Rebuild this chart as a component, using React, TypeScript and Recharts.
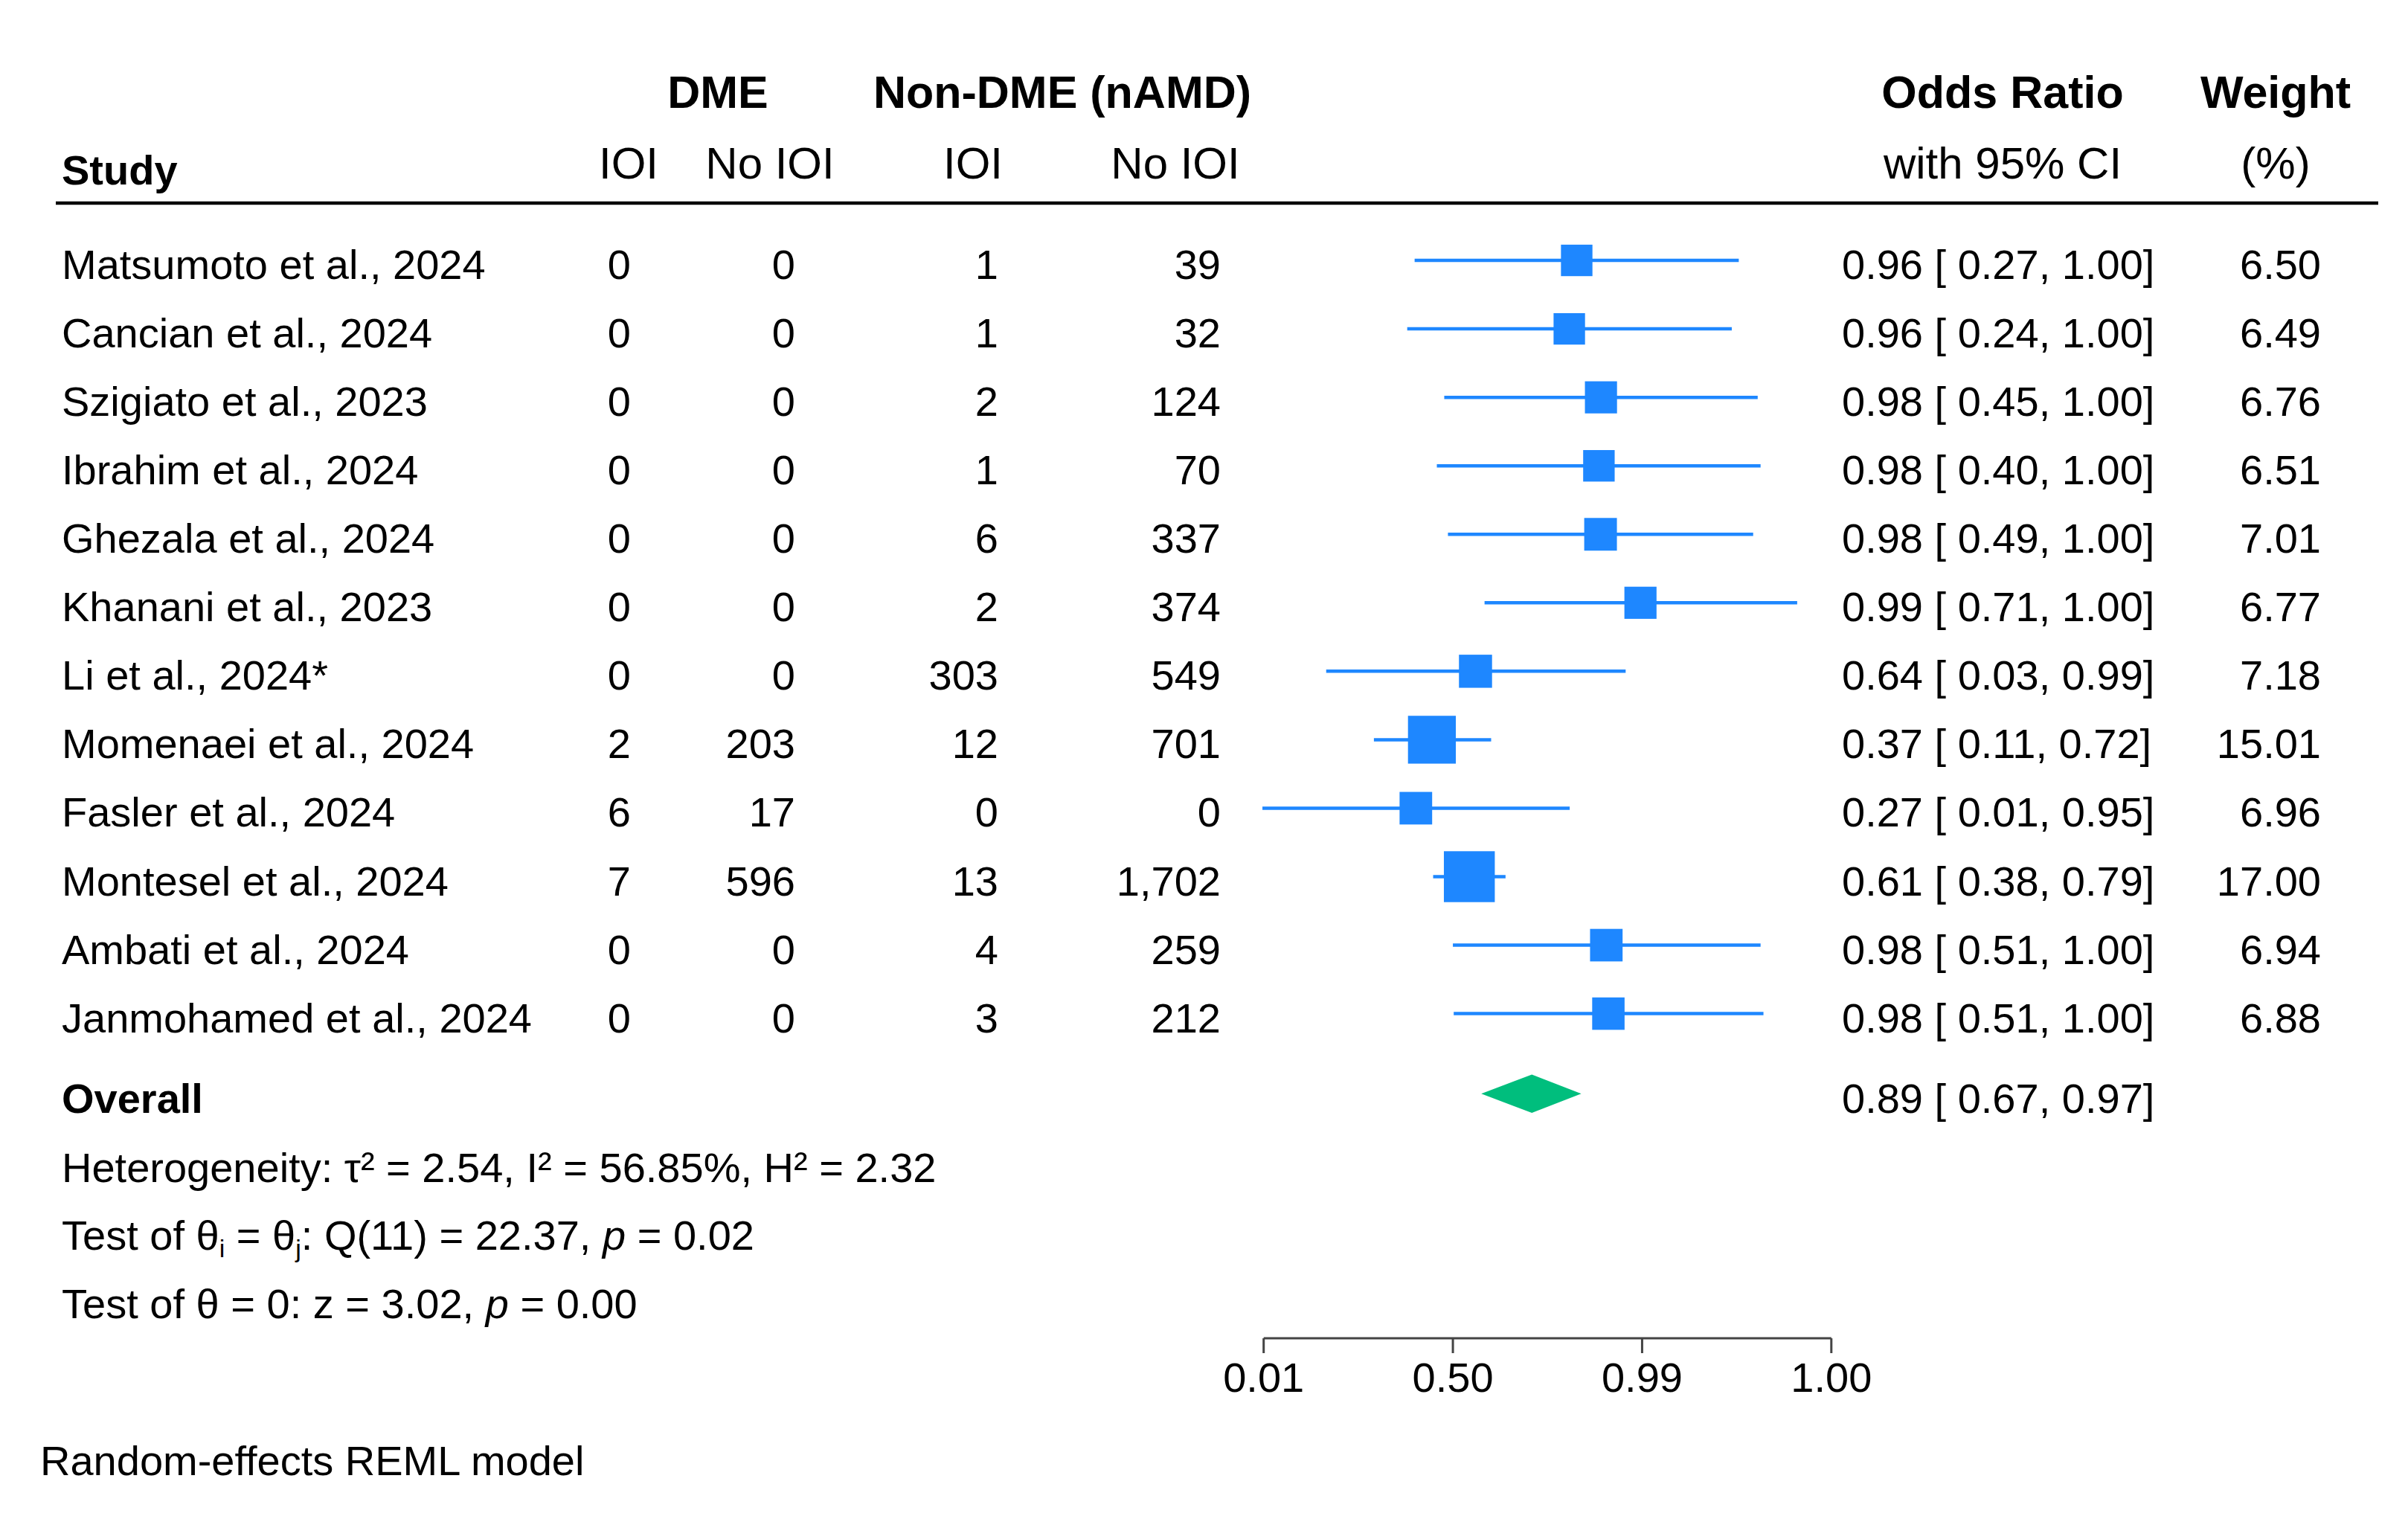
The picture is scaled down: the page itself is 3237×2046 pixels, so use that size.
import { ReferenceLine, Scatter, ScatterChart, XAxis, YAxis } from 'recharts'

const studies = [
  'Matsumoto et al., 2024',
  'Cancian et al., 2024',
  'Szigiato et al., 2023',
  'Ibrahim et al., 2024',
  'Ghezala et al., 2024',
  'Khanani et al., 2023',
  'Li et al., 2024*',
  'Momenaei et al., 2024',
  'Fasler et al., 2024',
  'Montesel et al., 2024',
  'Ambati et al., 2024',
  'Janmohamed et al., 2024',
]
const dmeIOI = [0, 0, 0, 0, 0, 0, 0, 2, 6, 7, 0, 0]
const dmeNoIOI = [0, 0, 0, 0, 0, 0, 0, 203, 17, 596, 0, 0]
const nonDmeIOI = [1, 1, 2, 1, 6, 2, 303, 12, 0, 13, 4, 3]
const nonDmeNoIOI = [39, 32, 124, 70, 337, 374, 549, 701, 0, 1702, 259, 212]

// printed odds ratios with 95% CI
const orEst = [0.96, 0.96, 0.98, 0.98, 0.98, 0.99, 0.64, 0.37, 0.27, 0.61, 0.98, 0.98]
const orLow = [0.27, 0.24, 0.45, 0.4, 0.49, 0.71, 0.03, 0.11, 0.01, 0.38, 0.51, 0.51]
const orHigh = [1.0, 1.0, 1.0, 1.0, 1.0, 1.0, 0.99, 0.72, 0.95, 0.79, 1.0, 1.0]
const weights = [6.5, 6.49, 6.76, 6.51, 7.01, 6.77, 7.18, 15.01, 6.96, 17.0, 6.94, 6.88]

// plotted positions (logit scale)
const plotEst = [3.01, 2.83, 3.6, 3.55, 3.59, 4.56, 0.55, -0.51, -0.9, 0.4, 3.73, 3.78]
const plotLow = [-0.93, -1.11, -0.21, -0.39, -0.12, 0.77, -3.08, -1.92, -4.63, -0.48, 0.0, 0.02]
const plotHigh = [6.95, 6.78, 7.41, 7.48, 7.3, 8.37, 4.2, 0.93, 2.84, 1.28, 7.48, 7.55]

const overallPrinted = [0.89, 0.67, 0.97]
const overallPlot = [1.92, 0.69, 3.12]
const overallRow = 12.17

const axisTicks = [-4.6, 0, 4.6, 9.2]
const tickLabels = ['0.01', '0.50', '0.99', '1.00']

const W = 3237
const H = 2046
const TOP = 258
const ROW = 92.05
const FONT = "'Liberation Sans', Arial, Helvetica, sans-serif"
const BLUE = '#1E87FF'
const GREEN = '#00BE7D'

const rowY = (i: number) => TOP + (i + 1) * ROW

const squares = studies.map((s, i) => ({ x: plotEst[i], y: i, w: weights[i], name: s }))
const diamondHalf = 0.28
const diamond = [
  { x: overallPlot[1], y: overallRow },
  { x: overallPlot[0], y: overallRow - diamondHalf },
  { x: overallPlot[2], y: overallRow },
  { x: overallPlot[0], y: overallRow + diamondHalf },
]

const fmtCI = (e: number, l: number, h: number) =>
  `${e.toFixed(2)} [ ${l.toFixed(2)}, ${h.toFixed(2)}]`

function Square(props: any) {
  const s = 16.6 * Math.sqrt(props.payload.w)
  return <rect x={props.cx - s / 2} y={props.cy - s / 2} width={s} height={s} fill={BLUE} />
}

function Overlay() {
  const body = { fontFamily: FONT, fontSize: 56, fill: '#000' }
  const head = { fontFamily: FONT, fontSize: 60, fill: '#000' }
  const bold = { fontFamily: FONT, fontSize: 61, fill: '#000', fontWeight: 'bold' }
  return (
    <svg
      width={W}
      height={H}
      style={{ position: 'absolute', left: 0, top: 0, pointerEvents: 'none' }}
    >
      <text {...bold} x={965} y={145} textAnchor="middle">DME</text>
      <text {...bold} x={1428} y={145} textAnchor="middle">Non-DME (nAMD)</text>
      <text {...bold} x={2692} y={145} textAnchor="middle">Odds Ratio</text>
      <text {...bold} x={3059} y={145} textAnchor="middle">Weight</text>
      <text {...body} fontWeight="bold" x={83} y={248}>Study</text>
      <text {...head} x={845} y={240} textAnchor="middle">IOI</text>
      <text {...head} x={1035} y={240} textAnchor="middle">No IOI</text>
      <text {...head} x={1308} y={240} textAnchor="middle">IOI</text>
      <text {...head} x={1580} y={240} textAnchor="middle">No IOI</text>
      <text {...head} x={2692} y={240} textAnchor="middle">with 95% CI</text>
      <text {...head} x={3059} y={240} textAnchor="middle">(%)</text>
      <line x1={75} x2={3197} y1={273} y2={273} stroke="#000" strokeWidth={4.5} />

      {studies.map((s, i) => {
        const y = rowY(i) + 25
        return (
          <g key={s}>
            <text {...body} x={83} y={y}>{s}</text>
            <text {...body} x={848} y={y} textAnchor="end">{dmeIOI[i]}</text>
            <text {...body} x={1069} y={y} textAnchor="end">{dmeNoIOI[i]}</text>
            <text {...body} x={1342} y={y} textAnchor="end">{nonDmeIOI[i]}</text>
            <text {...body} x={1641} y={y} textAnchor="end">
              {nonDmeNoIOI[i].toLocaleString('en-US')}
            </text>
            <text {...body} x={2476} y={y} style={{ whiteSpace: 'pre' }}>
              {fmtCI(orEst[i], orLow[i], orHigh[i])}
            </text>
            <text {...body} x={3120} y={y} textAnchor="end">{weights[i].toFixed(2)}</text>
          </g>
        )
      })}

      <text {...body} fontWeight="bold" x={83} y={1496}>Overall</text>
      <text {...body} x={2476} y={1496} style={{ whiteSpace: 'pre' }}>
        {fmtCI(overallPrinted[0], overallPrinted[1], overallPrinted[2])}
      </text>
      <text {...body} x={83} y={1589}>
        Heterogeneity: τ² = 2.54, I² = 56.85%, H² = 2.32
      </text>
      <text {...body} x={83} y={1680}>
        Test of θ<tspan fontSize={34} dy={10}>i</tspan>
        <tspan dy={-10}> = θ</tspan>
        <tspan fontSize={34} dy={10}>j</tspan>
        <tspan dy={-10}>: Q(11) = 22.37, </tspan>
        <tspan fontStyle="italic">p</tspan> = 0.02
      </text>
      <text {...body} x={83} y={1772}>
        Test of θ = 0: z = 3.02, <tspan fontStyle="italic">p</tspan> = 0.00
      </text>
      <text {...body} x={54} y={1983}>Random-effects REML model</text>
    </svg>
  )
}

export default function App() {
  return (
    <div style={{ position: 'absolute', left: 0, top: 0, width: W, height: H, background: '#fff' }}>
      <ScatterChart
        width={W}
        height={H}
        margin={{ top: TOP, right: 775.2, bottom: 167, left: 1698.7 }}
      >
        <XAxis
          type="number"
          dataKey="x"
          domain={[-4.6, 9.2]}
          allowDataOverflow
          ticks={axisTicks}
          interval={0}
          tickFormatter={(v: number) => tickLabels[axisTicks.indexOf(v)]}
          height={80}
          tickSize={20}
          tickMargin={12}
          axisLine={{ stroke: '#444', strokeWidth: 3 }}
          tickLine={{ stroke: '#444', strokeWidth: 3 }}
          tick={{ fontSize: 56, fill: '#000', fontFamily: FONT }}
        />
        <YAxis
          type="number"
          dataKey="y"
          domain={[-1, (2046 - 167 - 80 - TOP) / ROW - 1]}
          reversed
          allowDataOverflow
          hide
          width={0}
        />
        {studies.map((s, i) => (
          <ReferenceLine
            key={s}
            segment={[
              { x: plotLow[i], y: i },
              { x: plotHigh[i], y: i },
            ]}
            stroke={BLUE}
            strokeWidth={4.5}
            ifOverflow="visible"
          />
        ))}
        <Scatter data={squares} shape={Square} isAnimationActive={false} />
        <Scatter
          data={diamond}
          shape={() => <g />}
          line={(p: any) => (
            <polygon
              points={p.points.map((q: any) => `${q.x},${q.y}`).join(' ')}
              fill={GREEN}
              stroke="none"
            />
          )}
          isAnimationActive={false}
        />
      </ScatterChart>
      <Overlay />
    </div>
  )
}
